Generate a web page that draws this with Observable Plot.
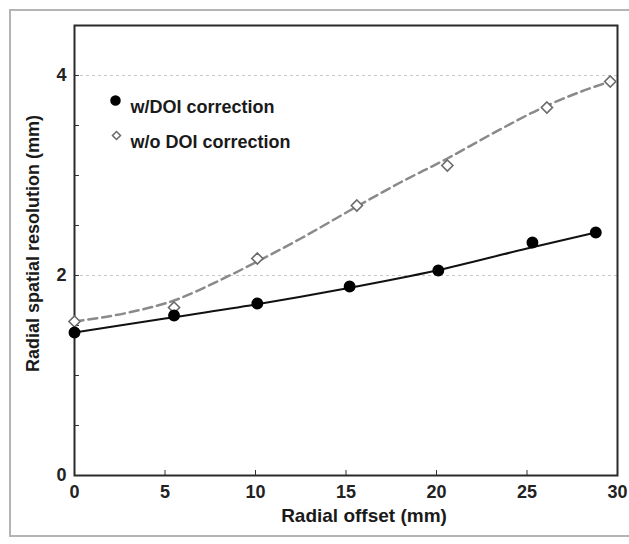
<!DOCTYPE html>
<html>
<head>
<meta charset="utf-8">
<script src="https://cdn.jsdelivr.net/npm/d3@7"></script>
<script src="https://cdn.jsdelivr.net/npm/@observablehq/plot@0.6"></script>
<style>
  html, body { margin: 0; padding: 0; background: #fff; }
  #wrap { position: relative; width: 629px; height: 544px; overflow: hidden; }
  #border { position: absolute; left: 9px; top: 9px; width: 660px; height: 528px; border: 2px solid #b4b4b4; box-sizing: border-box; }
  #chart { position: absolute; left: 0; top: 0; }
  svg { font-family: "Liberation Sans", Arial, sans-serif; }
</style>
</head>
<body>
<div id="wrap"><div id="border"></div><div id="chart"></div></div>
<script>
// Measured points
const offsetWith = [0, 5.5, 10.1, 15.2, 20.1, 25.3, 28.8];
const resWith    = [1.43, 1.60, 1.72, 1.89, 2.05, 2.33, 2.43];
const offsetWithout = [0, 5.5, 10.1, 15.6, 20.6, 26.1, 29.6];
const resWithout    = [1.54, 1.68, 2.17, 2.70, 3.10, 3.68, 3.94];

// Fitted curves
const fitWithX = [0, 5, 10, 15, 20, 25, 28.8];
const fitWithY = [1.43, 1.57, 1.71, 1.87, 2.05, 2.27, 2.43];
const fitWithoutX = [0, 3, 5.5, 8, 10, 12.5, 15.6, 18, 20.6, 23, 26, 28, 29.6];
const fitWithoutY = [1.54, 1.63, 1.75, 1.95, 2.13, 2.37, 2.69, 2.93, 3.17, 3.41, 3.69, 3.84, 3.94];

const xTicks = [0, 5, 10, 15, 20, 25, 30];
const yMajor = [0, 2, 4];
const yMinor = [0.5, 1, 1.5, 2, 2.5, 3, 3.5, 4];
const legendLabels = ["w/DOI correction", "w/o DOI correction"];
const xLabel = "Radial offset (mm)";
const yLabel = "Radial spatial resolution (mm)";

const zip = (xs, ys) => xs.map((x, i) => ({x, y: ys[i]}));
const ptsWith = zip(offsetWith, resWith);
const ptsWithout = zip(offsetWithout, resWithout);
const fitWith = zip(fitWithX, fitWithY);
const fitWithout = zip(fitWithoutX, fitWithoutY);

const font = {fontSize: 18, fontWeight: "bold", fill: "#1a1a1a"};

const chart = Plot.plot({
  width: 629,
  height: 544,
  marginLeft: 74,
  marginRight: 12,
  marginTop: 25,
  marginBottom: 69,
  style: {background: "transparent", fontFamily: "Liberation Sans, Arial, sans-serif"},
  x: {domain: [0, 30]},
  y: {domain: [0, 4.5]},
  marks: [
    Plot.ruleY([2, 4], {stroke: "#c8c8c8", strokeDasharray: "3,3", strokeWidth: 1}),
    // inward tick marks
    Plot.axisX({ticks: xTicks.slice(1, -1), tickSize: 5, dy: -5, tickFormat: () => "", label: null, stroke: "#333"}),
    Plot.axisY({ticks: yMinor, tickSize: 5, dx: 5, tickFormat: () => "", label: null, stroke: "#333"}),
    // tick labels
    Plot.axisX({ticks: xTicks, tickSize: 0, tickPadding: 10, tickFormat: d => String(d), fontSize: 18, fontWeight: "bold", label: null, color: "#222"}),
    Plot.axisY({ticks: yMajor, tickSize: 0, tickPadding: 8, tickFormat: d => String(d), fontSize: 18, fontWeight: "bold", label: null, color: "#222"}),
    Plot.frame({stroke: "#2a2a2a", strokeWidth: 2}),
    Plot.line(fitWithout, {x: "x", y: "y", stroke: "#8a8a8a", strokeWidth: 2.5, strokeDasharray: "9,5", curve: "monotone-x"}),
    Plot.line(fitWith, {x: "x", y: "y", stroke: "#111", strokeWidth: 2, curve: "monotone-x"}),
    Plot.dot(ptsWithout, {x: "x", y: "y", symbol: "diamond2", r: 5, stroke: "#6a6a6a", strokeWidth: 1.6, fill: "white"}),
    Plot.dot(ptsWith, {x: "x", y: "y", r: 5.2, fill: "#000", stroke: "#000"}),
    // legend
    Plot.dot([legendLabels[0]], {frameAnchor: "top-left", dx: 41, dy: 75, r: 4.5, fill: "#000", stroke: "#000"}),
    Plot.dot([legendLabels[1]], {frameAnchor: "top-left", dx: 42, dy: 110, r: 3.6, symbol: "diamond2", stroke: "#6a6a6a", strokeWidth: 1.5, fill: "white"}),
    Plot.text([legendLabels[0]], {frameAnchor: "top-left", dx: 56, dy: 75, text: d => d, textAnchor: "start", ...font}),
    Plot.text([legendLabels[1]], {frameAnchor: "top-left", dx: 56, dy: 110, text: d => d, textAnchor: "start", ...font}),
    // axis titles
    Plot.text([xLabel], {frameAnchor: "bottom", dx: 18, dy: 46, text: d => d, fontSize: 19, fontWeight: "bold", fill: "#1a1a1a"}),
    Plot.text([yLabel], {frameAnchor: "left", dx: -41, dy: -7, rotate: -90, textAnchor: "middle", text: d => d, fontSize: 18, fontWeight: "bold", fill: "#1a1a1a"})
  ]
});
document.getElementById("chart").appendChild(chart);
</script>
</body>
</html>
